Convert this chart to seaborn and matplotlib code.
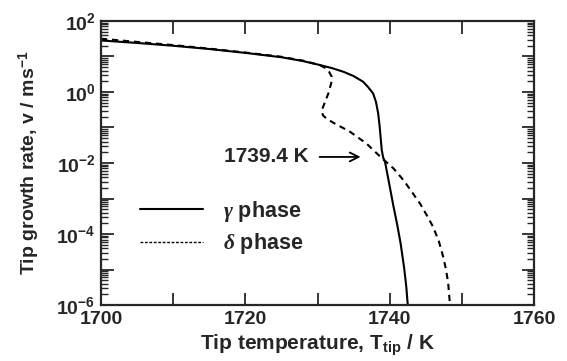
import numpy as np
import pandas as pd
import matplotlib
matplotlib.use("Agg")
import matplotlib.pyplot as plt
import matplotlib.ticker as mticker
import seaborn as sns

# ---- data ----
gamma_T = [1700, 1705, 1710, 1715, 1720, 1725, 1728, 1730.3, 1732.0, 1733.6,
           1735.0, 1736.3, 1737.0, 1737.7, 1738.1, 1738.4, 1738.6, 1738.75,
           1738.9, 1739.1, 1739.35, 1739.9, 1740.5, 1741.0, 1741.5, 1742.0,
           1742.3, 1742.5]
gamma_v = [28.2, 24.0, 20.0, 16.2, 12.6, 9.5, 7.4, 5.75, 4.7, 3.7,
           2.8, 1.95, 1.38, 0.91, 0.52, 0.25, 0.11, 0.05,
           0.023, 0.014, 0.0107, 0.0028, 6.3e-4, 2.0e-4, 5.6e-5, 1.1e-5,
           3.2e-6, 1.0e-6]

delta_T = [1700, 1705, 1710, 1715, 1720, 1725, 1728, 1730.3, 1731.0, 1731.6,
           1731.96, 1731.9, 1731.5, 1731.0, 1730.6, 1730.75, 1731.3, 1732.3,
           1734.5, 1736.8, 1738.7, 1740.5, 1741.9, 1743.0, 1744.2, 1745.2,
           1746.0, 1746.8, 1747.4, 1747.8, 1748.1, 1748.35]
delta_v = [31.6, 25.7, 20.9, 16.6, 12.9, 9.8, 7.6, 5.75, 4.8, 3.7,
           2.7, 1.78, 0.91, 0.50, 0.31, 0.22, 0.174, 0.132,
           0.076, 0.035, 0.015, 0.0071, 0.0033, 0.0016, 7.2e-4, 3.2e-4,
           1.6e-4, 6.3e-5, 2.3e-5, 1.0e-5, 4.1e-6, 1.0e-6]

series_labels = [r"$\gamma$ phase", r"$\delta$ phase"]
annot_text = "1739.4 K"
annot_T, annot_v = 1736.35, 0.0148
annot_text_T = 1728.8
arrow_tail_T = 1729.9

x_ticks = [1700, 1710, 1720, 1730, 1740, 1750, 1760]
x_ticklabels = ["1700", "", "1720", "", "1740", "", "1760"]
y_exps = [2, 1, 0, -1, -2, -3, -4, -5, -6]

# ---- style ----
sns.set_style("ticks")
plt.rcParams["font.family"] = ["Liberation Sans", "DejaVu Sans"]
plt.rcParams["font.weight"] = "bold"
plt.rcParams["mathtext.fontset"] = "custom"
plt.rcParams["mathtext.rm"] = "Liberation Sans:bold"
plt.rcParams["mathtext.bf"] = "Liberation Sans:bold"
plt.rcParams["mathtext.it"] = "Liberation Serif:italic"

fig = plt.figure(figsize=(5.67, 3.61), dpi=100)
ax = fig.add_axes([0.178, 0.155, 0.764, 0.787])

df_g = pd.DataFrame({"T": gamma_T, "v": gamma_v})
df_d = pd.DataFrame({"T": delta_T, "v": delta_v})
sns.lineplot(data=df_g, x="T", y="v", sort=False, estimator=None, ax=ax,
             color="black", linewidth=1.5, label=series_labels[0])
sns.lineplot(data=df_d, x="T", y="v", sort=False, estimator=None, ax=ax,
             color="black", linewidth=1.5, linestyle=(0, (3.0, 2.3)),
             label=series_labels[1])

ax.set_yscale("log")
ax.set_xlim(1700, 1760)
ax.set_ylim(1e-6, 1e2)

ax.set_xticks(x_ticks)
ax.set_xticklabels(x_ticklabels)
ax.set_yticks([10.0 ** e for e in y_exps])
ax.set_yticklabels([r"$\mathbf{10^{%d}}$" % e if e % 2 == 0 else "" for e in y_exps])
ax.yaxis.set_minor_locator(mticker.LogLocator(base=10, subs=np.arange(2, 10), numticks=20))
ax.yaxis.set_minor_formatter(mticker.NullFormatter())

ax.tick_params(which="major", direction="in", length=9, width=1.3,
               top=True, right=True, labelsize=14, pad=4)
ax.tick_params(which="minor", direction="in", length=5, width=1.0,
               top=False, right=True)
for s in ax.spines.values():
    s.set_linewidth(1.6)

ax.set_xlabel(r"Tip temperature, T$_\mathbf{tip}$ / K", fontsize=15,
              fontweight="bold", labelpad=4)
ax.set_ylabel(r"Tip growth rate, v / ms$^\mathbf{-1}$", fontsize=14,
              fontweight="bold", labelpad=10)

ax.text(annot_text_T, annot_v, annot_text, ha="right", va="center",
        fontsize=15, fontweight="bold")
ax.annotate("", xy=(annot_T, annot_v), xytext=(arrow_tail_T, annot_v),
            arrowprops=dict(arrowstyle="->", color="black", lw=1.3,
                            mutation_scale=16))

leg = ax.legend(loc="center left", bbox_to_anchor=(0.09, 0.273), frameon=False,
                handlelength=2.93, fontsize=15.5, labelspacing=0.35,
                handletextpad=0.93, borderpad=0, borderaxespad=0)
for t in leg.get_texts():
    t.set_fontweight("bold")
hl = leg.get_lines()
hl[1].set_linewidth(1.0)
hl[1].set_dashes((2.0, 1.2))

fig.savefig("out.png", dpi=100)
